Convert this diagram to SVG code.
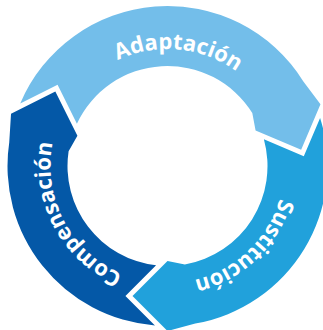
<svg xmlns="http://www.w3.org/2000/svg" width="323" height="330" viewBox="0 0 323 330">
  <style>
    .lbl { fill: #ffffff; font-family: "Open Sans", "Liberation Sans", sans-serif; font-weight: 700; font-size: 22px; letter-spacing: 0px; }
    .a { fill: #73BEEA; }
    .s { fill: #21A1DB; }
    .c { fill: #0458A7; }
  </style>
  <defs>
    <path id="tp-a" d="M 72.25 98.06 A 117 117 0 0 1 273.97 117.48"/>
    <path id="tp-s" d="M 281.27 138.69 A 117 117 0 0 1 134.27 278.18"/>
    <path id="tp-c" d="M 163.42 282.93 A 117 117 0 0 1 68.28 104.0"/>
  </defs>
  <rect width="323" height="330" fill="#ffffff"/>
  <g id="adaptacion">
    <path class="a" d="M 20.23 103.47 A 160 160 0 0 1 303.19 81.21 L 320.48 104.19 L 301.15 149.76 L 255.58 130.41 L 252.30 113.01 A 100 100 0 0 0 76.91 123.65 L 57.57 84.85 Z"/>
    <text class="lbl" text-anchor="middle"><textPath href="#tp-a" startOffset="50%">Adaptación</textPath></text>
  </g>
  <g id="sustitucion">
    <path class="s" d="M 320.10 117.90 A 160 160 0 0 1 195.28 323.57 L 167.5 331 L 132.5 296.0 L 167.5 261 L 184.86 264.48 A 100 100 0 0 0 263.89 139.36 L 303.79 156.31 Z"/>
    <text class="lbl" text-anchor="middle"><textPath href="#tp-s" startOffset="50%">Sustitución</textPath></text>
  </g>
  <g id="compensacion">
    <path class="c" d="M 154.94 325.51 A 160 160 0 0 1 9.26 142.35 L 11.03 113.65 L 55.33 91.55 L 77.41 135.86 L 68.60 151.22 A 100 100 0 0 0 156.09 265.35 L 125.43 296 Z"/>
    <text class="lbl" text-anchor="middle"><textPath href="#tp-c" startOffset="50%">Compensación</textPath></text>
  </g>
</svg>
